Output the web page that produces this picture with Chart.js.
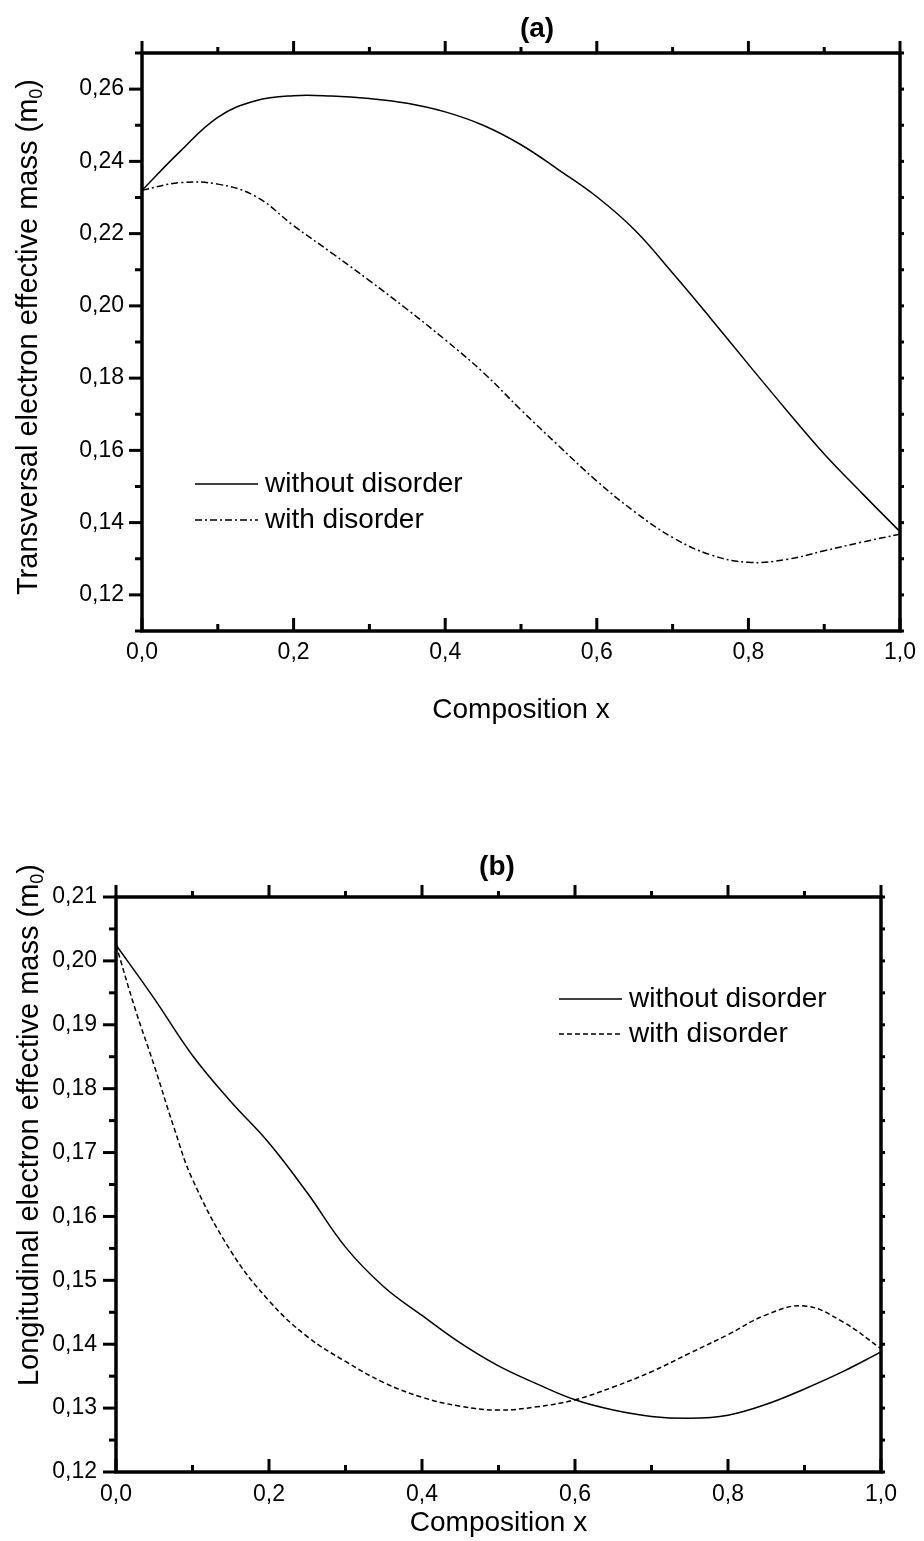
<!DOCTYPE html>
<html>
<head>
<meta charset="utf-8">
<script src="https://cdn.jsdelivr.net/npm/chart.js@4.4.1/dist/chart.umd.min.js"></script>
<style>
  body { margin: 0; background: #fff; width: 924px; height: 1541px; position: relative; overflow: hidden; }
  canvas { position: absolute; left: 0; }
  #chartA { top: 0; }
  #chartB { top: 760px; }
</style>
</head>
<body>
<canvas id="chartA" width="924" height="760"></canvas>
<canvas id="chartB" width="924" height="781"></canvas>
<script>
// composition x (step 0.05)
const composition = [0, 0.05, 0.1, 0.15, 0.2, 0.25, 0.3, 0.35, 0.4, 0.45, 0.5,
  0.55, 0.6, 0.65, 0.7, 0.75, 0.8, 0.85, 0.9, 0.95, 1.0];

// (a) transversal effective mass
const transWithout = [0.2320, 0.2427, 0.2522, 0.2568, 0.2582, 0.2581, 0.2574, 0.2561, 0.2537, 0.2500, 0.2446,
  0.2376, 0.2302, 0.2210, 0.2091, 0.1966, 0.1838, 0.1712, 0.1590, 0.1481, 0.1375];
const transWith = [0.2320, 0.2341, 0.2337, 0.2303, 0.2222, 0.2147, 0.2070, 0.1990, 0.1906, 0.1816, 0.1712,
  0.1612, 0.1515, 0.1430, 0.1359, 0.1311, 0.1290, 0.1298, 0.1322, 0.1346, 0.1368];

// (b) longitudinal effective mass
const longWithout = [0.2025, 0.1941, 0.1852, 0.1780, 0.1715, 0.1637, 0.1552, 0.1490, 0.1445, 0.1402, 0.1366,
  0.1338, 0.1313, 0.1297, 0.1287, 0.1284, 0.1289, 0.1306, 0.1330, 0.1357, 0.1388];
const compositionLongWith = [0, 0.025, 0.05, 0.075, 0.1, 0.15, 0.2, 0.25, 0.3, 0.35, 0.4, 0.45, 0.5,
  0.55, 0.6, 0.65, 0.7, 0.75, 0.8, 0.85, 0.9, 0.95, 1.0];
const longWith = [0.2025, 0.1925, 0.1836, 0.1742, 0.1658, 0.1546, 0.1468, 0.1412, 0.1373, 0.1340, 0.1317, 0.1303, 0.1297,
  0.1302, 0.1313, 0.1333, 0.1357, 0.1386, 0.1415, 0.1446, 0.1460, 0.1435, 0.1393];

// ticks
const xTicks = [0, 0.2, 0.4, 0.6, 0.8, 1.0];
const xMinor = [0.1, 0.3, 0.5, 0.7, 0.9];
const yTicksA = [0.12, 0.14, 0.16, 0.18, 0.20, 0.22, 0.24, 0.26];
const yMinorA = [0.11, 0.13, 0.15, 0.17, 0.19, 0.21, 0.23, 0.25, 0.27];
const yTicksB = [0.12, 0.13, 0.14, 0.15, 0.16, 0.17, 0.18, 0.19, 0.20, 0.21];
const yMinorB = [0.125, 0.135, 0.145, 0.155, 0.165, 0.175, 0.185, 0.195, 0.205];

const FONT = '"Liberation Sans", Arial, Helvetica, sans-serif';

const toXY = (xs, ys) => xs.map((x, i) => ({ x: x, y: ys[i] }));

// frame, ticks, legend, panel label and y title
const framePlugin = {
  id: 'framePlugin',
  afterDatasetsDraw(chart, args, o) {
    const { ctx, chartArea: a, scales: { x, y } } = chart;
    ctx.save();
    ctx.strokeStyle = '#000';
    ctx.fillStyle = '#000';
    ctx.lineCap = 'butt';
    ctx.lineWidth = 3;
    const vt = (px, y0, len) => { ctx.beginPath(); ctx.moveTo(px, y0); ctx.lineTo(px, y0 + len); ctx.stroke(); };
    const ht = (x0, py, len) => { ctx.beginPath(); ctx.moveTo(x0, py); ctx.lineTo(x0 + len, py); ctx.stroke(); };

    o.xMajor.forEach(v => { const px = x.getPixelForValue(v); vt(px, a.top, -12); vt(px, a.bottom, -13); });
    o.xMinor.forEach(v => { const px = x.getPixelForValue(v); vt(px, a.top, -6); vt(px, a.bottom, -7); });
    o.yMajor.forEach(v => { const py = y.getPixelForValue(v); ht(a.left, py, -13); ht(a.right, py, 4); });
    o.yMinor.forEach(v => { const py = y.getPixelForValue(v); ht(a.left, py, -7); ht(a.right, py, 4); });

    ctx.lineWidth = 3.5;
    ctx.strokeRect(a.left, a.top, a.right - a.left, a.bottom - a.top);

    // legend
    const lg = o.legend;
    chart.data.datasets.forEach((ds, i) => {
      const ly = lg.y + i * lg.gap;
      ctx.lineWidth = ds.borderWidth;
      ctx.setLineDash(ds.borderDash || []);
      ctx.beginPath(); ctx.moveTo(lg.x, ly); ctx.lineTo(lg.x + 63, ly); ctx.stroke();
      ctx.setLineDash([]);
      ctx.font = '28px ' + FONT;
      ctx.textAlign = 'left';
      ctx.textBaseline = 'middle';
      ctx.fillText(ds.label, lg.x + 70, ly);
    });

    // panel label
    ctx.font = 'bold 28px ' + FONT;
    ctx.textAlign = 'center';
    ctx.textBaseline = 'middle';
    ctx.fillText(o.panel.text, o.panel.x, o.panel.y);

    // y title with subscript
    const t = o.ytitle;
    ctx.translate(t.x, t.y);
    ctx.rotate(-Math.PI / 2);
    ctx.textAlign = 'left';
    ctx.textBaseline = 'alphabetic';
    ctx.font = '29px ' + FONT;
    const w1 = ctx.measureText(t.main).width;
    const w3 = ctx.measureText(')').width;
    ctx.font = '18px ' + FONT;
    const w2 = ctx.measureText('0').width;
    let sx = -(w1 + w2 + w3) / 2;
    ctx.font = '29px ' + FONT;
    ctx.fillText(t.main, sx, 0);
    ctx.font = '18px ' + FONT;
    ctx.fillText('0', sx + w1, 5);
    ctx.font = '29px ' + FONT;
    ctx.fillText(')', sx + w1 + w2, 0);
    ctx.restore();
  }
};

function makeChart(id, datasets, cfg) {
  const ctx = document.getElementById(id).getContext('2d');
  return new Chart(ctx, {
    type: 'line',
    data: { datasets: datasets },
    options: {
      responsive: false,
      animation: false,
      events: [],
      layout: { padding: { left: 0, right: cfg.padRight, top: cfg.padTop, bottom: 0 } },
      elements: { point: { radius: 0 }, line: { tension: 0.4 } },
      plugins: {
        legend: { display: false },
        tooltip: { enabled: false },
        framePlugin: cfg.frame
      },
      scales: {
        x: {
          type: 'linear', min: 0, max: 1,
          grid: { display: false, drawTicks: false },
          border: { display: false },
          afterBuildTicks: (s) => { s.ticks = xTicks.map(v => ({ value: v })); },
          afterFit: (s) => { s.height = cfg.xHeight; },
          ticks: {
            padding: cfg.xPad, color: '#000', font: { family: FONT, size: 23 },
            callback: (v) => v.toFixed(1).replace('.', ',')
          },
          title: {
            display: true, text: 'Composition x', color: '#000',
            font: { family: FONT, size: 28 }, padding: { top: 0, bottom: cfg.titlePad }
          }
        },
        y: {
          type: 'linear', min: cfg.yMin, max: cfg.yMax,
          grid: { display: false, drawTicks: false },
          border: { display: false },
          afterBuildTicks: (s) => { s.ticks = cfg.yTicks.map(v => ({ value: v })); },
          afterFit: (s) => { s.width = cfg.yWidth; },
          ticks: {
            padding: cfg.yPad, color: '#000', font: { family: FONT, size: 23 },
            callback: (v) => v.toFixed(2).replace('.', ',')
          }
        }
      }
    },
    plugins: [framePlugin]
  });
}

makeChart('chartA', [
  { label: 'without disorder', data: toXY(composition, transWithout), borderColor: '#000', borderWidth: 1.5, fill: false },
  { label: 'with disorder', data: toXY(composition, transWith), borderColor: '#000', borderWidth: 1.5, borderDash: [7, 3, 2, 3], fill: false }
], {
  padRight: 17, padTop: 53, xHeight: 129, yWidth: 142, xPad: 8, yPad: 18, titlePad: 33,
  yMin: 0.11, yMax: 0.27, yTicks: yTicksA,
  frame: {
    xMajor: xTicks, xMinor: xMinor, yMajor: yTicksA, yMinor: yMinorA,
    legend: { x: 195, y: 484, gap: 36 },
    panel: { text: '(a)', x: 537, y: 29 },
    ytitle: { main: 'Transversal electron effective mass (m', x: 37, y: 337 }
  }
});

makeChart('chartB', [
  { label: 'without disorder', data: toXY(composition, longWithout), borderColor: '#000', borderWidth: 1.5, fill: false },
  { label: 'with disorder', data: toXY(compositionLongWith, longWith), borderColor: '#000', borderWidth: 1.5, borderDash: [5, 3], fill: false }
], {
  padRight: 43, padTop: 137, xHeight: 69, yWidth: 116, xPad: 9, yPad: 19, titlePad: 1,
  yMin: 0.12, yMax: 0.21, yTicks: yTicksB,
  frame: {
    xMajor: xTicks, xMinor: xMinor, yMajor: yTicksB, yMinor: yMinorB,
    legend: { x: 559, y: 239, gap: 35 },
    panel: { text: '(b)', x: 497, y: 107 },
    ytitle: { main: 'Longitudinal electron effective mass (m', x: 38, y: 365 }
  }
});
</script>
</body>
</html>
